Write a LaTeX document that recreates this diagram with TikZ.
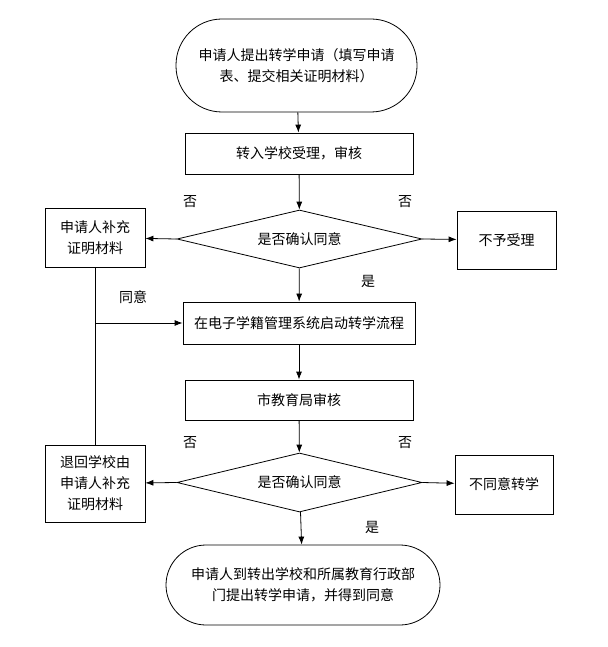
\documentclass[tikz,border=0pt]{standalone}
\usepackage{fontspec}
\newfontfamily\cjk{Noto Sans CJK SC}
\usepackage{tikz}
\usetikzlibrary{arrows.meta}
\usetikzlibrary{shapes.geometric}
\tikzset{>={Latex[length=8pt,width=6pt]}}
\tikzstyle{proc} = [rectangle, draw, line width=0.8pt, align=center, inner sep=0]
\tikzstyle{term} = [rectangle, draw, line width=0.8pt, align=center, inner sep=0]
\tikzstyle{dec} = [diamond, draw, line width=0.8pt, aspect=4, inner sep=0]
\tikzstyle{lab} = [draw=none, inner sep=0]

\begin{document}
\begin{tikzpicture}[x=1pt, y=-1pt, font=\cjk\fontsize{14}{21}\selectfont]
\useasboundingbox (0,0) rectangle (607,647);
% main column
\node [term, minimum width=241pt, minimum height=93pt, rounded corners=46pt] (S) at (296.5, 65.5) {申请人提出转学申请（填写申请\\表、提交相关证明材料）};
\node [proc, minimum width=228pt, minimum height=41pt] (B1) at (299, 153.5) {转入学校受理，审核};
\node [dec, minimum width=245pt, minimum height=58pt] (D1) at (299.5, 239) {是否确认同意};
\node [proc, minimum width=232pt, minimum height=42pt] (B2) at (299, 323) {在电子学籍管理系统启动转学流程};
\node [proc, minimum width=228pt, minimum height=40pt] (B3) at (299, 400) {市教育局审核};
\node [dec, minimum width=245pt, minimum height=59pt] (D2) at (299.5, 482.5) {是否确认同意};
\node [term, minimum width=274pt, minimum height=80pt, rounded corners=40pt] (E) at (303, 585) {申请人到转出学校和所属教育行政部\\门提出转学申请，并得到同意};
% side boxes
\node [proc, minimum width=100pt, minimum height=59pt] (L1) at (95, 237.5) {申请人补充\\证明材料};
\node [proc, minimum width=99pt, minimum height=58pt] (R1) at (506.5, 240) {不予受理};
\node [proc, minimum width=100pt, minimum height=77pt] (L2) at (95, 483.5) {退回学校由\\申请人补充\\证明材料};
\node [proc, minimum width=98pt, minimum height=59pt] (R2) at (504, 484.5) {不同意转学};
% labels
\node [lab] (n1) at (190, 202) {否};
\node [lab] (n2) at (405, 202) {否};
\node [lab] (y1) at (368, 281) {是};
\node [lab] (ok) at (133, 297) {同意};
\node [lab] (n3) at (190, 443) {否};
\node [lab] (n4) at (405, 443) {否};
\node [lab] (y2) at (372, 527) {是};
% arrows
\draw [->, line width=0.8pt] (S) to (B1);
\draw [->, line width=0.8pt] (B1) to (D1);
\draw [->, line width=0.8pt] (D1) to (B2);
\draw [->, line width=0.8pt] (B2) to (B3);
\draw [->, line width=0.8pt] (B3) to (D2);
\draw [->, line width=0.8pt] (D2) to (E);
\draw [->, line width=0.8pt] (D1.west) to (L1);
\draw [->, line width=0.8pt] (D1.east) to (R1);
\draw [->, line width=0.8pt] (D2.west) to (L2);
\draw [->, line width=0.8pt] (D2.east) to (R2);
\coordinate (J) at (L1.south |- B2.west);
\draw [-, line width=0.8pt] (L1.south) to (L2.north);
\draw [->, line width=0.8pt] (J) to (B2.west);
\end{tikzpicture}
\end{document}
